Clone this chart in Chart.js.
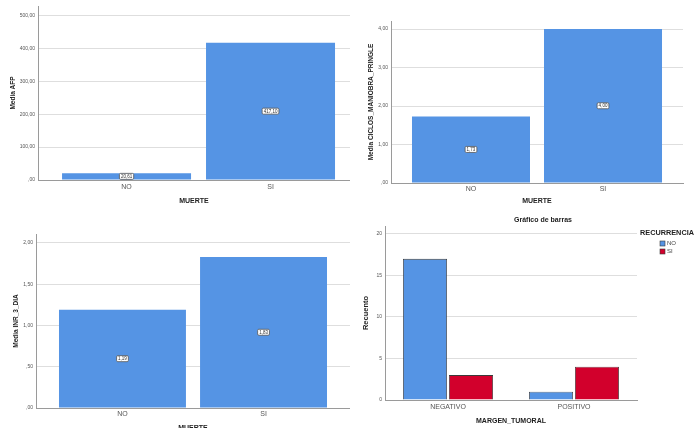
<!DOCTYPE html>
<html>
<head>
<meta charset="utf-8">
<script src="https://cdn.jsdelivr.net/npm/chart.js@4.4.1/dist/chart.umd.min.js"></script>
<style>
  body { margin: 0; background: #fff; width: 697px; height: 428px; overflow: hidden; position: relative; }
  canvas { position: absolute; }
</style>
</head>
<body>
<canvas id="chart-afp" width="350" height="210" style="left:0;top:0"></canvas>
<canvas id="chart-ciclos" width="347" height="210" style="left:350px;top:0"></canvas>
<canvas id="chart-inr" width="350" height="230" style="left:0;top:210px"></canvas>
<canvas id="chart-margen" width="386" height="218" style="left:350px;top:210px"></canvas>
<script>
// datos
const muerteCats = ['NO', 'SI'];
const mediaAFP = [20.61, 417.10];
const mediaCiclos = [1.73, 4.00];
const mediaINR = [1.19, 1.83];

const margenCats = ['NEGATIVO', 'POSITIVO'];
const recurrenciaCats = ['NO', 'SI'];
const recuentoNO = [17, 1];
const recuentoSI = [3, 4];

const azul = '#5594e4';
const rojo = '#d2002c';
const fuente = '"Liberation Sans", Arial, sans-serif';

Chart.defaults.font.family = fuente;
Chart.defaults.color = '#444';

// formato SPSS: 0,50 -> ,50
function spss(v) {
  var s = Number(v).toFixed(2).replace('.', ',');
  return s.replace(/^0,/, ',');
}

// etiqueta con caja blanca en el centro de cada barra
const etiquetas = {
  id: 'etiquetas',
  afterDatasetsDraw(chart) {
    const ctx = chart.ctx;
    const meta = chart.getDatasetMeta(0);
    ctx.save();
    ctx.font = '4.5px ' + fuente;
    ctx.textAlign = 'center';
    ctx.textBaseline = 'middle';
    meta.data.forEach(function(bar, i) {
      const txt = Number(chart.data.datasets[0].data[i].y).toFixed(2).replace('.', ',');
      const w = ctx.measureText(txt).width + 3;
      const h = 6;
      const cx = bar.x;
      const cy = (bar.y + bar.base) / 2;
      ctx.beginPath();
      ctx.roundRect(cx - w / 2, cy - h / 2, w, h, 1.2);
      ctx.fillStyle = '#fff';
      ctx.fill();
      ctx.lineWidth = 0.8;
      ctx.strokeStyle = '#555';
      ctx.stroke();
      ctx.fillStyle = '#333';
      ctx.fillText(txt, cx, cy + 0.3);
    });
    ctx.restore();
  }
};

// leyenda estilo SPSS (titulo encima, cuadros sangrados)
const leyenda = {
  id: 'leyenda',
  afterDraw(chart) {
    const ctx = chart.ctx;
    const a = chart.chartArea;
    ctx.save();
    ctx.textBaseline = 'middle';
    ctx.textAlign = 'center';
    ctx.fillStyle = '#222';
    ctx.font = 'bold 7.3px ' + fuente;
    ctx.fillText('RECURRENCIA', a.right + 30, a.top + 7);
    ctx.textAlign = 'left';
    ctx.font = '6px ' + fuente;
    chart.data.datasets.forEach(function(ds, i) {
      const y = a.top + 15 + i * 8;
      ctx.fillStyle = ds.backgroundColor;
      ctx.fillRect(a.right + 23, y, 5, 5);
      ctx.lineWidth = 0.6;
      ctx.strokeStyle = '#3a3a3a';
      ctx.strokeRect(a.right + 23, y, 5, 5);
      ctx.fillStyle = '#444';
      ctx.fillText(ds.label, a.right + 30, y + 2.7);
    });
    ctx.restore();
  }
};

function mediaChart(id, values, yTitle, o) {
  return new Chart(document.getElementById(id), {
    type: 'bar',
    data: {
      datasets: [{
        data: values.map(function(v, i) { return {x: i, y: v}; }),
        backgroundColor: azul,
        borderWidth: 0,
        barPercentage: o.barPct,
        categoryPercentage: 1
      }]
    },
    plugins: [etiquetas],
    options: {
      responsive: false,
      animation: false,
      layout: { padding: o.padding },
      plugins: { legend: { display: false }, tooltip: { enabled: false } },
      scales: {
        x: {
          type: 'linear',
          offset: false,
          bounds: 'data',
          min: o.xMin,
          max: o.xMax,
          afterBuildTicks: function(s) { s.ticks = muerteCats.map(function(c, i) { return {value: i}; }); },
          afterFit: function(s) { s.height = o.xHeight; },
          grid: { display: false, drawTicks: false, tickLength: 0, offset: false },
          border: { display: true, color: '#9a9a9a' },
          ticks: {
            padding: o.xTickPad,
            font: { size: 7 },
            color: '#555',
            callback: function(v) { return muerteCats[v]; }
          },
          title: {
            display: true,
            text: 'MUERTE',
            color: '#222',
            font: { size: 7, weight: 'bold' },
            padding: { top: 0, bottom: o.xTitlePad }
          }
        },
        y: {
          min: 0,
          max: o.yMax,
          afterFit: function(s) { s.width = o.yWidth; },
          grid: { color: '#dedede', drawTicks: false },
          border: { display: true, color: '#9a9a9a' },
          ticks: {
            stepSize: o.step,
            includeBounds: false,
            padding: 3,
            font: { size: 5 },
            color: '#555',
            callback: function(v) { return spss(v); }
          },
          title: {
            display: true,
            text: yTitle,
            color: '#222',
            font: { size: 6.5, weight: 'bold' },
            padding: { top: o.yTitlePad, bottom: 0 }
          }
        }
      }
    }
  });
}

const afpChart = mediaChart('chart-afp', mediaAFP, 'Media AFP', {
  padding: { top: 0, right: 0, bottom: 0, left: 0 },
  yWidth: 38, xHeight: 30, yMax: 529, step: 100,
  xMin: -0.615, xMax: 1.552, barPct: 0.896,
  xTickPad: 3, xTitlePad: 5.2, yTitlePad: 9
});

const ciclosChart = mediaChart('chart-ciclos', mediaCiclos, 'Media CICLOS_MANIOBRA_PRINGLE', {
  padding: { top: 21, right: 14, bottom: 0, left: 0 },
  yWidth: 41, xHeight: 27, yMax: 4.208, step: 1,
  xMin: -0.606, xMax: 1.606, barPct: 0.894,
  xTickPad: 2, xTitlePad: 4.8, yTitlePad: 17
});

const inrChart = mediaChart('chart-inr', mediaINR, 'Media INR_3_DIA', {
  padding: { top: 24, right: 0, bottom: 0, left: 0 },
  yWidth: 36, xHeight: 32, yMax: 2.109, step: 0.5,
  xMin: -0.613, xMax: 1.613, barPct: 0.9,
  xTickPad: 2, xTitlePad: 7.8, yTitlePad: 12
});

// grafico de barras agrupadas
const margenChart = new Chart(document.getElementById('chart-margen'), {
  type: 'bar',
  data: {
    labels: margenCats,
    datasets: [
      {
        label: recurrenciaCats[0],
        data: recuentoNO,
        backgroundColor: azul,
        borderColor: '#3a3a3a',
        borderWidth: 0.8
      },
      {
        label: recurrenciaCats[1],
        data: recuentoSI,
        backgroundColor: rojo,
        borderColor: '#3a3a3a',
        borderWidth: 0.8
      }
    ]
  },
  plugins: [leyenda],
  options: {
    responsive: false,
    animation: false,
    categoryPercentage: 0.73,
    barPercentage: 0.957,
    layout: { padding: 0 },
    plugins: {
      tooltip: { enabled: false },
      legend: { display: false },
      title: {
        display: true,
        text: 'Gráfico de barras',
        color: '#222',
        font: { size: 7, weight: 'bold' },
        padding: { top: 6, bottom: 1.6 }
      }
    },
    scales: {
      x: {
        afterFit: function(s) { s.height = 28; },
        grid: { display: false, drawTicks: false, tickLength: 0 },
        border: { display: true, color: '#9a9a9a' },
        ticks: { padding: 3, font: { size: 7 }, color: '#555' },
        title: {
          display: true,
          text: 'MARGEN_TUMORAL',
          color: '#222',
          font: { size: 7, weight: 'bold' },
          padding: { top: 0, bottom: 3.1 }
        }
      },
      y: {
        min: 0,
        max: 20.96,
        afterFit: function(s) { s.width = 35; },
        grid: { color: '#dedede', drawTicks: false },
        border: { display: true, color: '#9a9a9a' },
        ticks: { stepSize: 5, includeBounds: false, padding: 3, font: { size: 5 }, color: '#555' },
        title: {
          display: true,
          text: 'Recuento',
          color: '#222',
          font: { size: 7.5, weight: 'bold' },
          padding: { top: 11.5, bottom: 0 }
        }
      },
      // espacio a la derecha para la leyenda (el titulo queda centrado en todo el lienzo)
      hueco: {
        type: 'linear', position: 'right',
        grid: { display: false }, ticks: { display: false }, border: { display: false },
        afterFit: function(s) { s.width = 99; }
      }
    }
  }
});
</script>
</body>
</html>
